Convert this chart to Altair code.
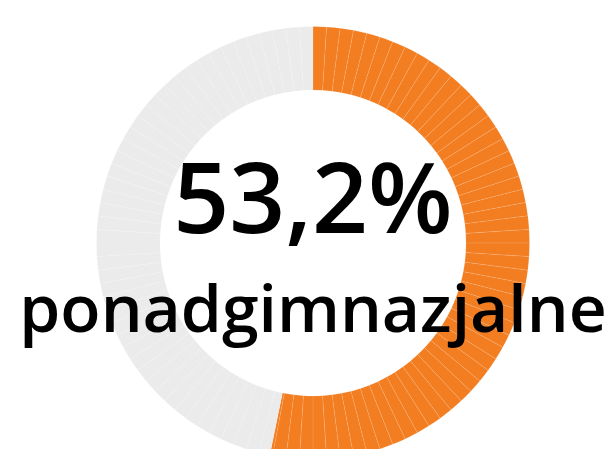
import altair as alt
import pandas as pd

# data
categories = ["ponadgimnazjalne", "pozostałe"]
shares = [53.2, 46.8]
colors = ["#F37E22", "#EBEBEB"]
big_label = "53,2%"
sub_label = "ponadgimnazjalne"

# split the ring into 1% cells (the thin divider lines of the original)
rows = []
idx = 0
for cat, val in zip(categories, shares):
    remaining = val
    start = sum(r["size"] for r in rows)
    while remaining > 1e-9:
        frac_to_boundary = 1 - (start % 1) if (start % 1) > 1e-9 else 1
        step = min(frac_to_boundary, remaining)
        rows.append({"cat": cat, "size": step, "idx": idx})
        idx += 1
        start += step
        remaining -= step
df = pd.DataFrame(rows)

CX, CY = 305, 235

ring = alt.Chart(df).mark_arc(
    x=CX, y=CY, radius=216.5, radius2=153,
    stroke="white", strokeWidth=0.5, strokeOpacity=0.2,
).encode(
    theta=alt.Theta("size:Q", stack=True),
    order=alt.Order("idx:Q"),
    color=alt.Color("cat:N", scale=alt.Scale(domain=categories, range=colors), legend=None),
)

t1 = alt.Chart(pd.DataFrame({"t": [big_label]})).mark_text(
    x=CX, y=225, align="center", baseline="alphabetic",
    font="Open Sans", fontSize=98, fontWeight=600, color="#000000",
).encode(text="t:N")

t2 = alt.Chart(pd.DataFrame({"t": [sub_label]})).mark_text(
    x=CX, y=324, align="center", baseline="alphabetic",
    font="Open Sans", fontSize=66, fontWeight=600, color="#000000",
).encode(text="t:N")

chart = alt.layer(ring, t1, t2).properties(
    width=598, height=441, padding=0,
    autosize=alt.AutoSizeParams(type="none"),
).configure_view(stroke=None)

chart.save("out.html", embed_options={"renderer": "svg", "actions": False})
